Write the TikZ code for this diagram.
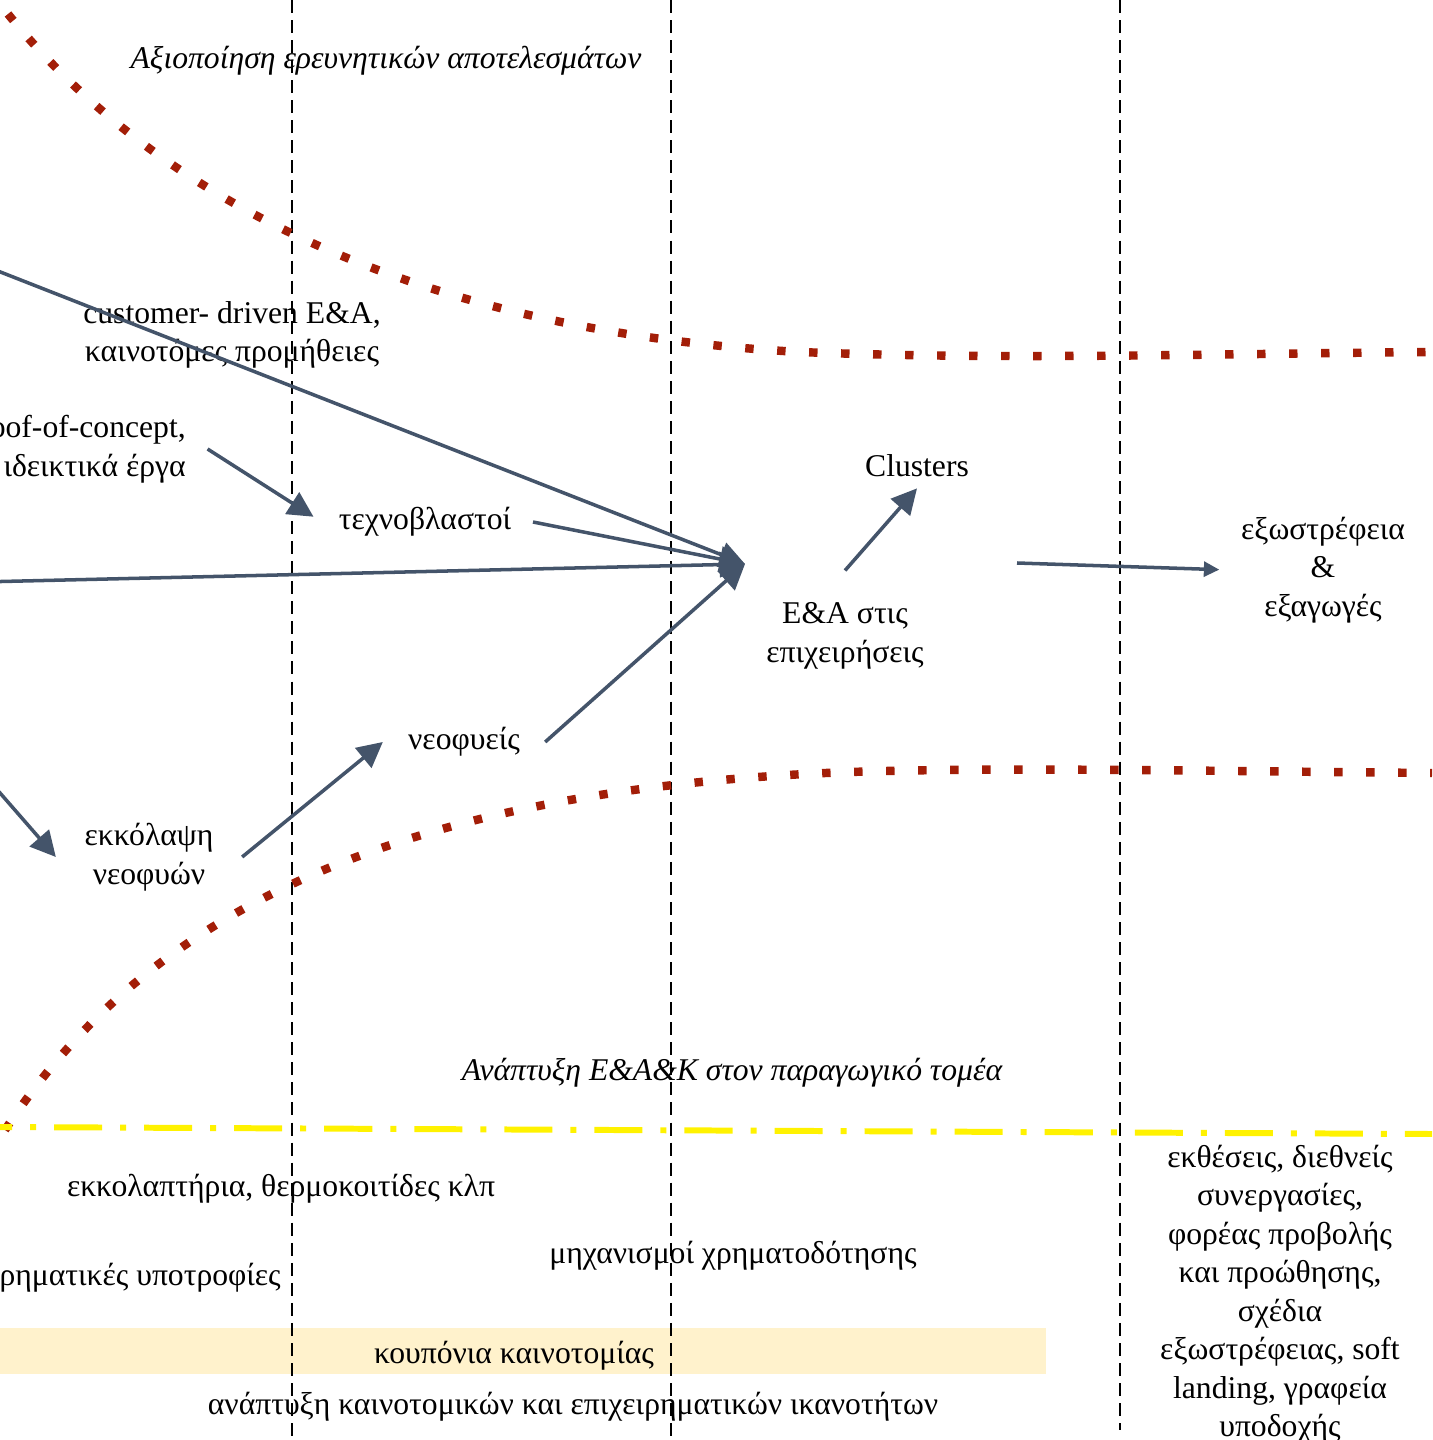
\documentclass[tikz,border=0pt]{standalone}
\usepackage{fontspec}
\setmainfont{Liberation Serif}
\usetikzlibrary{arrows.meta}

\definecolor{slate}{RGB}{68,84,106}
\definecolor{brick}{RGB}{163,30,8}
\definecolor{cream}{RGB}{255,242,204}

\tikzset{
  lbl/.style={align=center, font=\fontsize{9}{10.95}\selectfont, inner sep=3pt},
  zone/.style={lbl, font=\fontsize{9}{10.95}\selectfont\itshape},
  flow/.style={-{Triangle[length=7.2pt,width=7.2pt]}, slate, line width=1pt},
  thinflow/.style={flow, -{Triangle[length=4.4pt,width=4.2pt]}},
  band/.style={brick, line width=2.4pt, dash pattern=on 2.4pt off 6.7pt},
  sep/.style={black, line width=0.55pt, dash pattern=on 3.7pt off 2pt},
  yline/.style={yellow, line width=1.7pt,
    dash pattern=on 13.66pt off 5.12pt on 1.71pt off 5.12pt, dash phase=10.24pt},
}

\begin{document}
\begin{tikzpicture}[x=0.01cm, y=-0.01cm]
    \useasboundingbox (0,0) rectangle (1432,1440);
    \clip (0,0) rectangle (1432,1440);

    % Voucher strip
    \fill[cream] (0,1328) rectangle (1046,1374);

    % Vertical separators
    \draw[sep] (292,0) -- (292,1440);
    \draw[sep] (671,0) -- (671,1440);
    \draw[sep] (1120,0) -- (1120,1430);

    % Zone boundaries
    \draw[band] (8,14) .. controls (150,190) and (400,330) .. (800,352)
        .. controls (1000,360) and (1200,354) .. (1432,352);
    \draw[band] (5,1130) .. controls (130,940) and (350,790) .. (850,772)
        .. controls (1000,767) and (1200,771) .. (1432,773);
    \draw[yline] (0,1127) -- (1432,1134);

    % Zone titles
    \node[zone] (expl) at (386,61) {Αξιοποίηση ερευνητικών αποτελεσμάτων};
    \node[zone] (dev) at (732,1073) {Ανάπτυξη Ε\&Α\&Κ στον παραγωγικό τομέα};

    % Stages
    \node[lbl] (cust) at (232,335) {customer- driven Ε\&Α,\\καινοτόμες προμήθειες};
    \node[lbl, align=right, anchor=east] (poc) at (197,449) {oof-of-concept,\\ιδεικτικά έργα};
    \node[lbl] (tech) at (425,522) {τεχνοβλαστοί};
    \node[lbl] (clus) at (917,466) {Clusters};
    \node[lbl] (ea) at (845,636) {Ε\&Α στις\\επιχειρήσεις};
    \node[lbl] (ext) at (1323,570) {εξωστρέφεια\\\&\\εξαγωγές};
    \node[lbl] (neo) at (464,742) {νεοφυείς};
    \node[lbl] (inc) at (149,857) {εκκόλαψη\\νεοφυών};

    % Support tools
    \node[lbl] (hubs) at (281,1189) {εκκολαπτήρια, θερμοκοιτίδες κλπ};
    \node[lbl] (fund) at (733,1256) {μηχανισμοί χρηματοδότησης};
    \node[lbl, anchor=east] (grant) at (292,1278) {ρηματικές υποτροφίες};
    \node[lbl] (vouch) at (514,1356) {κουπόνια καινοτομίας};
    \node[lbl] (skill) at (573,1407) {ανάπτυξη καινοτομικών και επιχειρηματικών ικανοτήτων};
    \node[lbl] (intl) at (1280,1294) {εκθέσεις, διεθνείς\\συνεργασίες,\\φορέας προβολής\\και προώθησης,\\σχέδια\\εξωστρέφειας, soft\\landing, γραφεία\\υποδοχής};

    % Arrow ends
    \coordinate (hub) at (745,564);
    \coordinate (inA) at (-20,264);
    \coordinate (inB) at (-20,582);
    \coordinate (inC) at (-20,770);
    \coordinate (hubout) at (1017,563);

    % Flows into the hub
    \draw[flow] (inA) -- (hub);
    \draw[flow] ([xshift=3pt]tech.east) -- (hub);
    \draw[flow] (inB) -- (hub);
    \draw[flow] ([xshift=4pt]neo.east) -- (hub);

    % Other flows
    \draw[flow] ([xshift=3pt]poc.east) -- ([shift={(-4pt,1.5pt)}]tech.west);
    \draw[flow] (inC) -- ([xshift=-5pt]inc.west);
    \draw[flow] ([xshift=5pt]inc.east) -- ([xshift=-4pt]neo.west);
    \draw[flow] ([yshift=6pt]ea.north) -- (clus.south);
    \draw[thinflow, shorten >=3pt] (hubout) -- (ext.west);

\end{tikzpicture}
\end{document}
